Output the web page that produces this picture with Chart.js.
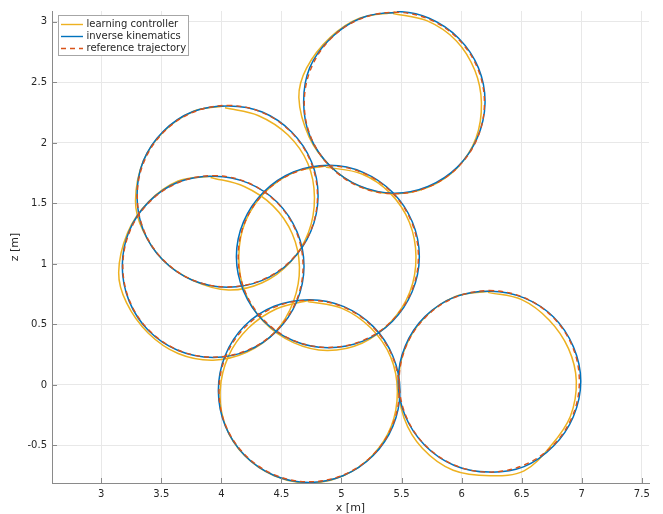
<!DOCTYPE html>
<html>
<head>
<meta charset="utf-8">
<script src="https://cdn.jsdelivr.net/npm/chart.js@4.4.1/dist/chart.umd.min.js"></script>
<style>
  html, body { margin: 0; padding: 0; background: #fff; }
  canvas { display: block; }
</style>
</head>
<body>
<canvas id="c" width="663" height="514"></canvas>
<script>
// ---- data ----
const seriesNames = ['learning controller', 'inverse kinematics', 'reference trajectory'];
const xTicks = [3, 3.5, 4, 4.5, 5, 5.5, 6, 6.5, 7, 7.5];
const yTicks = [-0.5, 0, 0.5, 1, 1.5, 2, 2.5, 3];

// reference trajectory: six circles, each starting at its top
const referenceCircles = [
  [[5.44,3.08],[5.727,3.023],[5.970,2.860],[6.133,2.617],[6.190,2.330],[6.133,2.043],[5.970,1.800],[5.727,1.637],[5.440,1.580],[5.153,1.637],[4.910,1.800],[4.747,2.043],[4.690,2.330],[4.747,2.617],[4.910,2.860],[5.153,3.023],[5.44,3.08]],
  [[4.05,2.31],[4.337,2.253],[4.580,2.090],[4.743,1.847],[4.800,1.560],[4.743,1.273],[4.580,1.030],[4.337,0.867],[4.050,0.810],[3.763,0.867],[3.520,1.030],[3.357,1.273],[3.300,1.560],[3.357,1.847],[3.520,2.090],[3.763,2.253],[4.05,2.31]],
  [[3.93,1.73],[4.217,1.673],[4.460,1.510],[4.623,1.267],[4.680,0.980],[4.623,0.693],[4.460,0.450],[4.217,0.287],[3.930,0.230],[3.643,0.287],[3.400,0.450],[3.237,0.693],[3.180,0.980],[3.237,1.267],[3.400,1.510],[3.643,1.673],[3.93,1.73]],
  [[4.89,1.81],[5.177,1.753],[5.420,1.590],[5.583,1.347],[5.640,1.060],[5.583,0.773],[5.420,0.530],[5.177,0.367],[4.890,0.310],[4.603,0.367],[4.360,0.530],[4.197,0.773],[4.140,1.060],[4.197,1.347],[4.360,1.590],[4.603,1.753],[4.89,1.81]],
  [[4.73,0.70],[5.017,0.643],[5.260,0.480],[5.423,0.237],[5.480,-0.050],[5.423,-0.337],[5.260,-0.580],[5.017,-0.743],[4.730,-0.800],[4.443,-0.743],[4.200,-0.580],[4.037,-0.337],[3.980,-0.050],[4.037,0.237],[4.200,0.480],[4.443,0.643],[4.73,0.70]],
  [[6.23,0.78],[6.517,0.723],[6.760,0.560],[6.923,0.317],[6.980,0.030],[6.923,-0.257],[6.760,-0.500],[6.517,-0.663],[6.230,-0.720],[5.943,-0.663],[5.700,-0.500],[5.537,-0.257],[5.480,0.030],[5.537,0.317],[5.700,0.560],[5.943,0.723],[6.23,0.78]]
];

// inverse kinematics
const ikCircles = [
  [[5.46,3.085],[5.73,3.030],[5.975,2.865],[6.140,2.620],[6.195,2.330],[6.130,2.040],[5.965,1.800],[5.720,1.640],[5.440,1.585],[5.150,1.645],[4.905,1.810],[4.740,2.050],[4.685,2.330],[4.735,2.620],[4.910,2.865],[5.160,3.030],[5.44,3.075]],
  [[4.06,2.305],[4.340,2.255],[4.585,2.090],[4.750,1.845],[4.805,1.560],[4.745,1.270],[4.580,1.025],[4.335,0.862],[4.050,0.808],[3.760,0.865],[3.515,1.030],[3.352,1.275],[3.298,1.560],[3.350,1.850],[3.515,2.095],[3.760,2.258],[4.06,2.305]],
  [[3.94,1.725],[4.220,1.670],[4.465,1.510],[4.630,1.265],[4.688,0.980],[4.628,0.690],[4.460,0.445],[4.215,0.282],[3.930,0.228],[3.640,0.285],[3.395,0.448],[3.232,0.693],[3.175,0.980],[3.232,1.270],[3.398,1.515],[3.643,1.677],[3.94,1.725]],
  [[4.90,1.815],[5.180,1.757],[5.425,1.592],[5.590,1.347],[5.648,1.060],[5.588,0.770],[5.423,0.525],[5.178,0.362],[4.890,0.308],[4.600,0.365],[4.350,0.530],[4.185,0.775],[4.125,1.060],[4.185,1.350],[4.352,1.595],[4.600,1.760],[4.90,1.815]],
  [[4.74,0.705],[5.020,0.647],[5.265,0.482],[5.428,0.237],[5.487,-0.050],[5.428,-0.340],[5.262,-0.585],[5.017,-0.748],[4.730,-0.805],[4.440,-0.748],[4.195,-0.583],[4.032,-0.337],[3.975,-0.050],[4.030,0.240],[4.192,0.487],[4.440,0.650],[4.74,0.705]],
  [[6.24,0.775],[6.520,0.720],[6.765,0.562],[6.930,0.317],[6.992,0.030],[6.930,-0.262],[6.765,-0.505],[6.520,-0.675],[6.230,-0.720],[5.940,-0.665],[5.695,-0.500],[5.530,-0.255],[5.472,0.030],[5.530,0.320],[5.695,0.565],[5.945,0.728],[6.24,0.775]]
];

// learning controller (open ends at the top of each circle)
const learningCircles = [
  [[5.43,3.070],[5.710,3.010],[5.955,2.845],[6.110,2.600],[6.165,2.330],[6.120,2.040],[5.965,1.795],[5.725,1.635],[5.440,1.580],[5.155,1.640],[4.905,1.810],[4.730,2.050],[4.645,2.375],[4.710,2.620],[4.905,2.870],[5.150,3.030],[5.45,3.080]],
  [[4.03,2.290],[4.310,2.225],[4.555,2.065],[4.720,1.830],[4.775,1.550],[4.725,1.260],[4.570,1.010],[4.340,0.845],[4.060,0.785],[3.770,0.860],[3.515,1.030],[3.345,1.280],[3.285,1.520],[3.350,1.850],[3.520,2.095],[3.765,2.260],[4.02,2.305]],
  [[3.91,1.715],[4.190,1.640],[4.430,1.480],[4.590,1.250],[4.650,0.975],[4.600,0.690],[4.450,0.440],[4.210,0.270],[3.930,0.205],[3.640,0.260],[3.390,0.430],[3.210,0.680],[3.145,0.930],[3.220,1.260],[3.390,1.510],[3.640,1.685],[3.91,1.725]],
  [[4.87,1.800],[5.165,1.745],[5.405,1.585],[5.565,1.345],[5.620,1.060],[5.570,0.770],[5.410,0.520],[5.170,0.345],[4.880,0.285],[4.600,0.350],[4.355,0.520],[4.195,0.770],[4.145,1.060],[4.200,1.350],[4.365,1.595],[4.610,1.760],[4.87,1.810]],
  [[4.72,0.690],[5.000,0.635],[5.245,0.470],[5.410,0.230],[5.465,-0.050],[5.415,-0.340],[5.255,-0.585],[5.015,-0.750],[4.730,-0.810],[4.440,-0.750],[4.195,-0.585],[4.035,-0.340],[3.990,-0.050],[4.060,0.240],[4.225,0.470],[4.460,0.630],[4.73,0.700]],
  [[6.22,0.765],[6.500,0.705],[6.730,0.535],[6.890,0.300],[6.955,0.030],[6.905,-0.260],[6.745,-0.500],[6.520,-0.710],[6.240,-0.750],[5.930,-0.705],[5.675,-0.525],[5.520,-0.270],[5.475,0.030],[5.535,0.320],[5.700,0.565],[5.945,0.730],[6.22,0.775]]
];

const xRange = [2.59, 7.56];
const yRange = [-0.81, 3.09];

// ---- build datasets ----
// closed loops get one hidden neighbour point on each side so the curve has no corner where it closes
function buildSeries(circles, closed) {
  const data = [];
  const hidden = new Set();
  circles.forEach((c, i) => {
    if (i > 0) data.push({x: NaN, y: NaN});
    if (closed) { hidden.add(data.length); data.push({x: c[c.length - 2][0], y: c[c.length - 2][1]}); }
    c.forEach(p => data.push({x: p[0], y: p[1]}));
    if (closed) { hidden.add(data.length); data.push({x: c[1][0], y: c[1][1]}); }
  });
  return {data, hidden};
}

const colors = ['#EDB120', '#0072BD', '#D95319'];
const dashes = [[], [], [5, 4]];
const FONT = '"DejaVu Sans", sans-serif';

function makeDataset(i, series, order) {
  return {
    label: seriesNames[i],
    data: series.data,
    borderColor: colors[i],
    borderWidth: i === 2 ? 1.4 : 1.5,
    borderDash: dashes[i],
    order: order,
    segment: {
      borderColor: ctx => (series.hidden.has(ctx.p0DataIndex) || series.hidden.has(ctx.p1DataIndex)) ? 'rgba(0,0,0,0)' : undefined
    }
  };
}

const learning = buildSeries(learningCircles, false);
const ik = buildSeries(ikCircles, true);
const ref = buildSeries(referenceCircles, true);

const overlay = {
  id: 'overlay',
  afterDraw(chart) {
    const ctx = chart.ctx;
    const a = chart.chartArea;
    const xs = chart.scales.x, ys = chart.scales.y;
    ctx.save();
    // inward ticks
    ctx.strokeStyle = '#8a8a8a';
    ctx.lineWidth = 1;
    ctx.beginPath();
    xTicks.forEach(v => {
      const px = Math.round(xs.getPixelForValue(v)) + 0.5;
      ctx.moveTo(px, a.bottom); ctx.lineTo(px, a.bottom - 5);
    });
    yTicks.forEach(v => {
      const py = Math.round(ys.getPixelForValue(v)) + 0.5;
      ctx.moveTo(a.left, py); ctx.lineTo(a.left + 5, py);
    });
    ctx.stroke();

    // axis titles
    ctx.fillStyle = '#262626';
    ctx.font = '11px ' + FONT;
    ctx.textAlign = 'center';
    ctx.textBaseline = 'middle';
    ctx.fillText('x [m]', (a.left + a.right) / 2, 508);
    ctx.save();
    ctx.translate(15, (a.top + a.bottom) / 2);
    ctx.rotate(-Math.PI / 2);
    ctx.fillText('z [m]', 0, 0);
    ctx.restore();

    // legend box
    const bx = 58.5, by = 15.5, bw = 130, bh = 40;
    ctx.fillStyle = '#ffffff';
    ctx.fillRect(bx, by, bw, bh);
    ctx.strokeStyle = '#a6a6a6';
    ctx.lineWidth = 1;
    ctx.strokeRect(bx, by, bw, bh);
    ctx.font = '10px ' + FONT;
    ctx.textAlign = 'left';
    ctx.textBaseline = 'middle';
    seriesNames.forEach((name, i) => {
      const y = 24 + i * 12;
      ctx.strokeStyle = colors[i];
      ctx.lineWidth = 1.4;
      ctx.setLineDash(dashes[i]);
      ctx.beginPath();
      ctx.moveTo(61, y + 0.5); ctx.lineTo(83, y + 0.5);
      ctx.stroke();
      ctx.setLineDash([]);
      ctx.fillStyle = '#262626';
      ctx.fillText(name, 86.5, y + 0.5);
    });
    ctx.restore();
  }
};

new Chart(document.getElementById('c'), {
  type: 'line',
  data: {
    datasets: [
      makeDataset(0, learning, 3),
      makeDataset(1, ik, 2),
      makeDataset(2, ref, 1)
    ]
  },
  options: {
    responsive: false,
    animation: false,
    devicePixelRatio: 1,
    spanGaps: false,
    layout: { padding: { top: 10, right: 14, left: 0, bottom: 0 } },
    elements: {
      point: { radius: 0, hoverRadius: 0 },
      line: { tension: 0.35, fill: false, borderJoinStyle: 'round', borderCapStyle: 'butt' }
    },
    plugins: { legend: { display: false }, tooltip: { enabled: false } },
    events: [],
    scales: {
      x: {
        type: 'linear',
        min: xRange[0], max: xRange[1],
        afterFit: s => { s.height = 31; },
        afterBuildTicks: s => { s.ticks = xTicks.map(v => ({value: v})); },
        ticks: {
          autoSkip: false, maxRotation: 0, minRotation: 0,
          padding: 5, color: '#262626',
          font: { family: FONT, size: 10 },
          callback: v => String(v)
        },
        grid: { color: '#e8e8e8', lineWidth: 1, drawTicks: false },
        border: { display: true, color: '#8a8a8a', width: 1 }
      },
      y: {
        type: 'linear',
        min: yRange[0], max: yRange[1],
        afterFit: s => { s.width = 52; },
        afterBuildTicks: s => { s.ticks = yTicks.map(v => ({value: v})); },
        ticks: {
          autoSkip: false,
          padding: 5, color: '#262626',
          font: { family: FONT, size: 10 },
          callback: v => String(v)
        },
        grid: { color: '#e8e8e8', lineWidth: 1, drawTicks: false },
        border: { display: true, color: '#8a8a8a', width: 1 }
      }
    }
  },
  plugins: [overlay]
});
</script>
</body>
</html>
